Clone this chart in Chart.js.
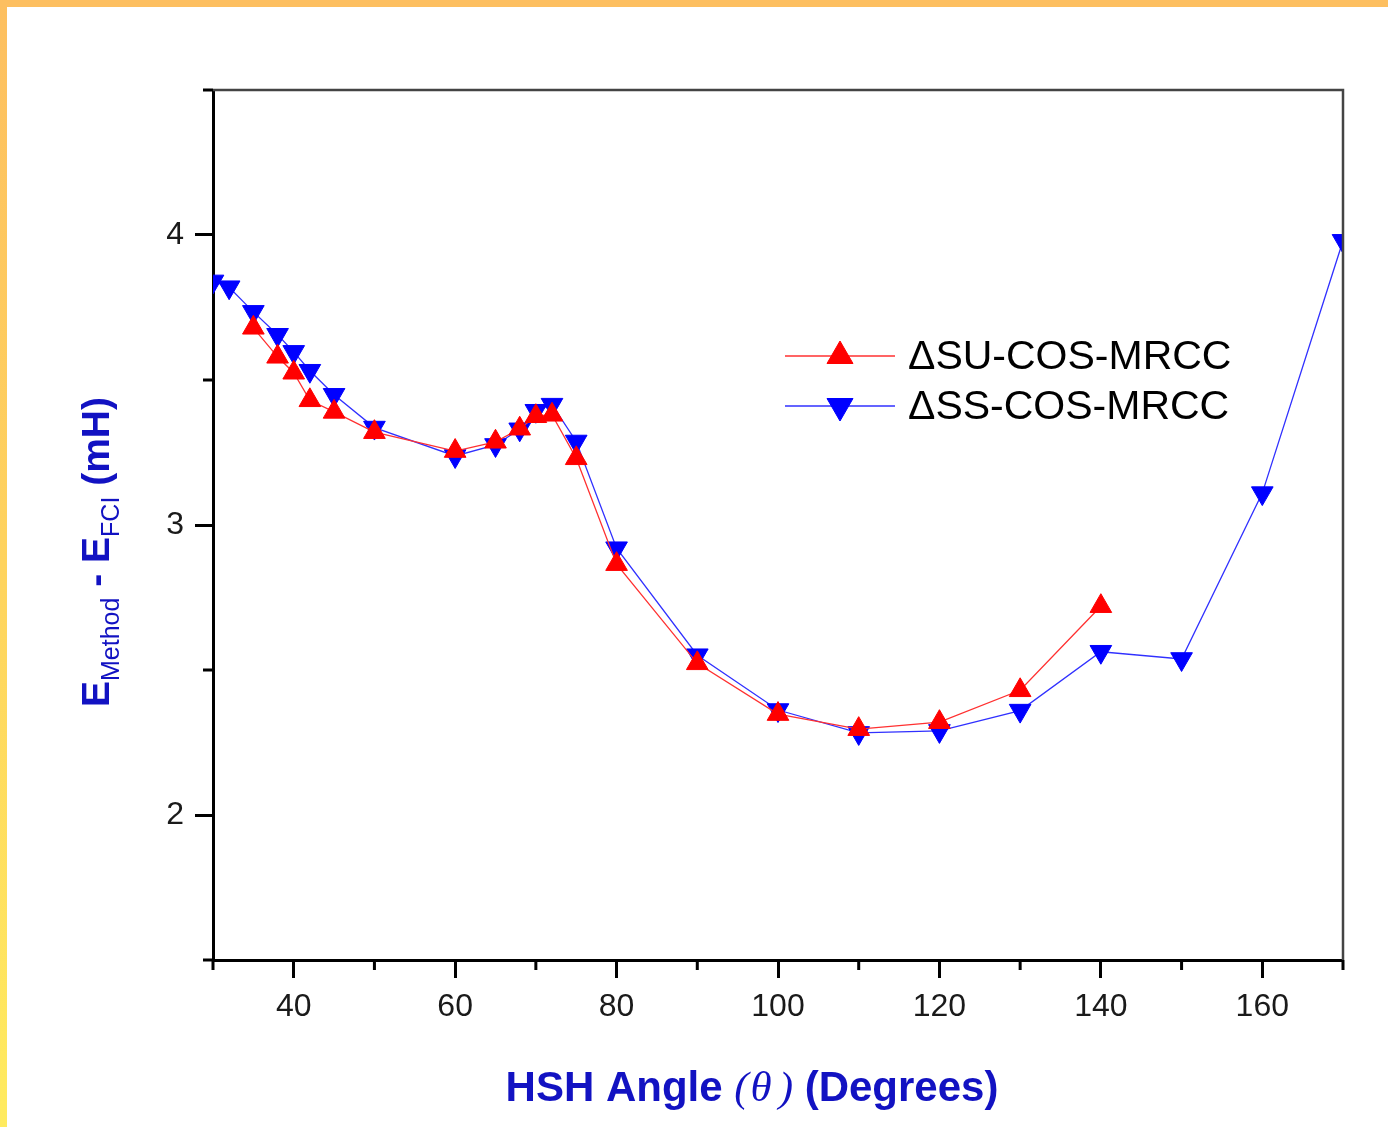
<!doctype html>
<html lang="en">
<head>
  <meta charset="utf-8">
  <title>HSH angle scan</title>
  <style>
    body { margin: 0; background: white; }
    .chartBox { position: relative; width: 1388px; height: 1127px; }
  </style>
</head>
<body>
  <div class="chartBox">
    <canvas id="scan"></canvas>
  </div>
  <script src="https://cdn.jsdelivr.net/npm/chart.js@4.4.0/dist/chart.umd.min.js"></script>
  <script>
    // HSH angle (degrees) for each method
    const anglesSU = [35, 38, 40, 42, 45, 50, 60, 65, 68, 70, 72, 75, 80, 90, 100, 110, 120, 130, 140];
    const anglesSS = [30, 32, 35, 38, 40, 42, 45, 50, 60, 65, 68, 70, 72, 75, 80, 90, 100, 110, 120, 130, 140, 150, 160, 170];

    // E(method) - E(FCI) in mH
    const errorSU = [3.68, 3.58, 3.525, 3.43, 3.39, 3.32, 3.255, 3.287, 3.332, 3.375, 3.38, 3.23, 2.865, 2.523, 2.348, 2.296, 2.32, 2.43, 2.72];
    const errorSS = [3.84, 3.82, 3.735, 3.656, 3.597, 3.532, 3.449, 3.336, 3.238, 3.276, 3.33, 3.394, 3.415, 3.288, 2.92, 2.551, 2.362, 2.283, 2.29, 2.36, 2.563, 2.538, 3.11, 3.98];

    // axis ticks
    const xMajor = [40, 60, 80, 100, 120, 140, 160];
    const xMinor = [30, 50, 70, 90, 110, 130, 150, 170];
    const yMajor = [2, 3, 4];
    const yMinor = [1.5, 2.5, 3.5, 4.5];

    const labelSU = 'ΔSU-COS-MRCC';
    const labelSS = 'ΔSS-COS-MRCC';

    const SANS = '"Liberation Sans", Arial, sans-serif';
    const TITLE_BLUE = '#1212c2';

    function toPoints(xs, ys) {
      return xs.map((x, i) => ({ x: x, y: ys[i] }));
    }

    // white page with the orange/yellow frame on top and left
    const pageFrame = {
      id: 'pageFrame',
      beforeDraw(chart) {
        const ctx = chart.ctx;
        const w = chart.width, h = chart.height;
        ctx.save();
        ctx.fillStyle = 'white';
        ctx.fillRect(0, 0, w, h);
        const grad = ctx.createLinearGradient(0, 0, 0, h);
        grad.addColorStop(0, '#fdbf60');
        grad.addColorStop(0.5, '#fed35e');
        grad.addColorStop(1, '#ffeb5f');
        ctx.fillStyle = grad;
        ctx.fillRect(0, 0, 7, h);
        ctx.fillStyle = '#fdbf60';
        ctx.fillRect(0, 0, w, 7);
        ctx.restore();
      }
    };

    // short minor ticks, plus the thin top/right box lines
    const axisExtras = {
      id: 'axisExtras',
      afterDraw(chart) {
        const ctx = chart.ctx;
        const a = chart.chartArea;
        const xs = chart.scales.x, ys = chart.scales.y;
        ctx.save();
        ctx.strokeStyle = '#444';
        ctx.lineWidth = 2.5;
        ctx.beginPath();
        ctx.moveTo(a.left, a.top);
        ctx.lineTo(a.right, a.top);
        ctx.lineTo(a.right, a.bottom);
        ctx.stroke();

        ctx.strokeStyle = '#000';
        ctx.lineWidth = 3;
        ctx.beginPath();
        xMinor.forEach(v => {
          const px = xs.getPixelForValue(v);
          ctx.moveTo(px, a.bottom);
          ctx.lineTo(px, a.bottom + 10);
        });
        yMinor.forEach(v => {
          const py = ys.getPixelForValue(v);
          ctx.moveTo(a.left - 10, py);
          ctx.lineTo(a.left, py);
        });
        ctx.stroke();
        ctx.restore();
      }
    };

    // draws a list of text runs side by side, centred on 0
    function drawRuns(ctx, runs) {
      let total = 0;
      runs.forEach(r => { ctx.font = r.font; r.w = ctx.measureText(r.text).width; total += r.w + (r.gap || 0); });
      let x = -total / 2;
      runs.forEach(r => {
        ctx.font = r.font;
        ctx.fillText(r.text, x, r.dy || 0);
        x += r.w + (r.gap || 0);
      });
    }

    const axisTitles = {
      id: 'axisTitles',
      afterDraw(chart) {
        const ctx = chart.ctx;
        const bold = 'bold 39px ' + SANS;
        const sub = '25px ' + SANS;
        ctx.save();
        ctx.fillStyle = TITLE_BLUE;
        ctx.textBaseline = 'alphabetic';
        ctx.textAlign = 'left';

        const xBold = 'bold 42px ' + SANS;
        const xItal = 'italic 43px "Liberation Serif", "Times New Roman", serif';
        ctx.save();
        ctx.translate(752, 1101);
        drawRuns(ctx, [
          { text: 'HSH Angle ', font: xBold },
          { text: '(', font: xItal, gap: 2 },
          { text: 'θ', font: xItal, gap: 7 },
          { text: ')', font: xItal },
          { text: ' (Degrees)', font: xBold }
        ]);
        ctx.restore();

        ctx.save();
        ctx.translate(109, 552);
        ctx.rotate(-Math.PI / 2);
        drawRuns(ctx, [
          { text: 'E', font: bold },
          { text: 'Method', font: sub, dy: 10 },
          { text: ' - ', font: bold },
          { text: 'E', font: bold },
          { text: 'FCI', font: sub, dy: 10 },
          { text: ' (mH)', font: bold }
        ]);
        ctx.restore();
        ctx.restore();
      }
    };

    // legend box placed inside the plot, right of centre
    const innerLegend = {
      id: 'innerLegend',
      afterDraw(chart) {
        const ctx = chart.ctx;
        const a = chart.chartArea;
        const x0 = a.left + 572, x1 = a.left + 682, tx = a.left + 695;
        const rows = [
          { label: labelSU, ds: chart.data.datasets[0], y: a.top + 266 },
          { label: labelSS, ds: chart.data.datasets[1], y: a.top + 316 }
        ];
        ctx.save();
        rows.forEach(r => {
          ctx.strokeStyle = r.ds.borderColor;
          ctx.lineWidth = 1.5;
          ctx.beginPath();
          ctx.moveTo(x0, r.y);
          ctx.lineTo(x1, r.y);
          ctx.stroke();
          ctx.fillStyle = r.ds.pointBackgroundColor;
          ctx.strokeStyle = r.ds.pointBackgroundColor;
          ctx.lineWidth = 1;
          Chart.helpers.drawPoint(ctx, {
            pointStyle: 'triangle',
            radius: 15,
            rotation: r.ds.pointRotation,
            borderWidth: 1
          }, (x0 + x1) / 2, r.y);
          ctx.fillStyle = '#000';
          ctx.font = '41px ' + SANS;
          ctx.textBaseline = 'middle';
          ctx.fillText(r.label, tx, r.y + 2);
        });
        ctx.restore();
      }
    };

    const axisGrid = {
      drawOnChartArea: false,
      drawTicks: true,
      tickLength: 18,
      tickWidth: 3,
      tickColor: '#000'
    };
    const axisBorder = { display: true, width: 3, color: '#000' };
    const tickFont = { family: SANS, size: 32 };

    new Chart(document.getElementById('scan'), {
      type: 'line',
      data: {
        datasets: [
          {
            label: labelSU,
            data: toPoints(anglesSU, errorSU),
            borderColor: '#ff3030',
            borderWidth: 1.3,
            pointStyle: 'triangle',
            pointRadius: 12.5,
            pointRotation: 0,
            pointBackgroundColor: '#ff0000',
            pointBorderColor: '#ff0000',
            pointBorderWidth: 1,
            tension: 0,
            clip: 0
          },
          {
            label: labelSS,
            data: toPoints(anglesSS, errorSS),
            borderColor: '#3030ff',
            borderWidth: 1.3,
            pointStyle: 'triangle',
            pointRadius: 12.5,
            pointRotation: 180,
            pointBackgroundColor: '#0000ff',
            pointBorderColor: '#0000ff',
            pointBorderWidth: 1,
            tension: 0,
            clip: 0
          }
        ]
      },
      options: {
        responsive: true,
        maintainAspectRatio: false,
        animation: false,
        layout: { padding: { top: 90, right: 45, left: 0, bottom: 0 } },
        plugins: {
          legend: { display: false },
          tooltip: { enabled: false }
        },
        scales: {
          x: {
            type: 'linear',
            min: 30,
            max: 170,
            grid: axisGrid,
            border: axisBorder,
            afterBuildTicks: s => { s.ticks = xMajor.map(v => ({ value: v })); },
            afterFit: s => { s.height = 167; },
            ticks: { font: tickFont, color: '#1a1a1a', padding: 10, maxRotation: 0 }
          },
          y: {
            type: 'linear',
            min: 1.5,
            max: 4.5,
            grid: axisGrid,
            border: axisBorder,
            afterBuildTicks: s => { s.ticks = yMajor.map(v => ({ value: v })); },
            afterFit: s => { s.width = 213; },
            ticks: { font: tickFont, color: '#1a1a1a', padding: 11 }
          }
        }
      },
      plugins: [pageFrame, axisExtras, axisTitles, innerLegend]
    });
  </script>
</body>
</html>
